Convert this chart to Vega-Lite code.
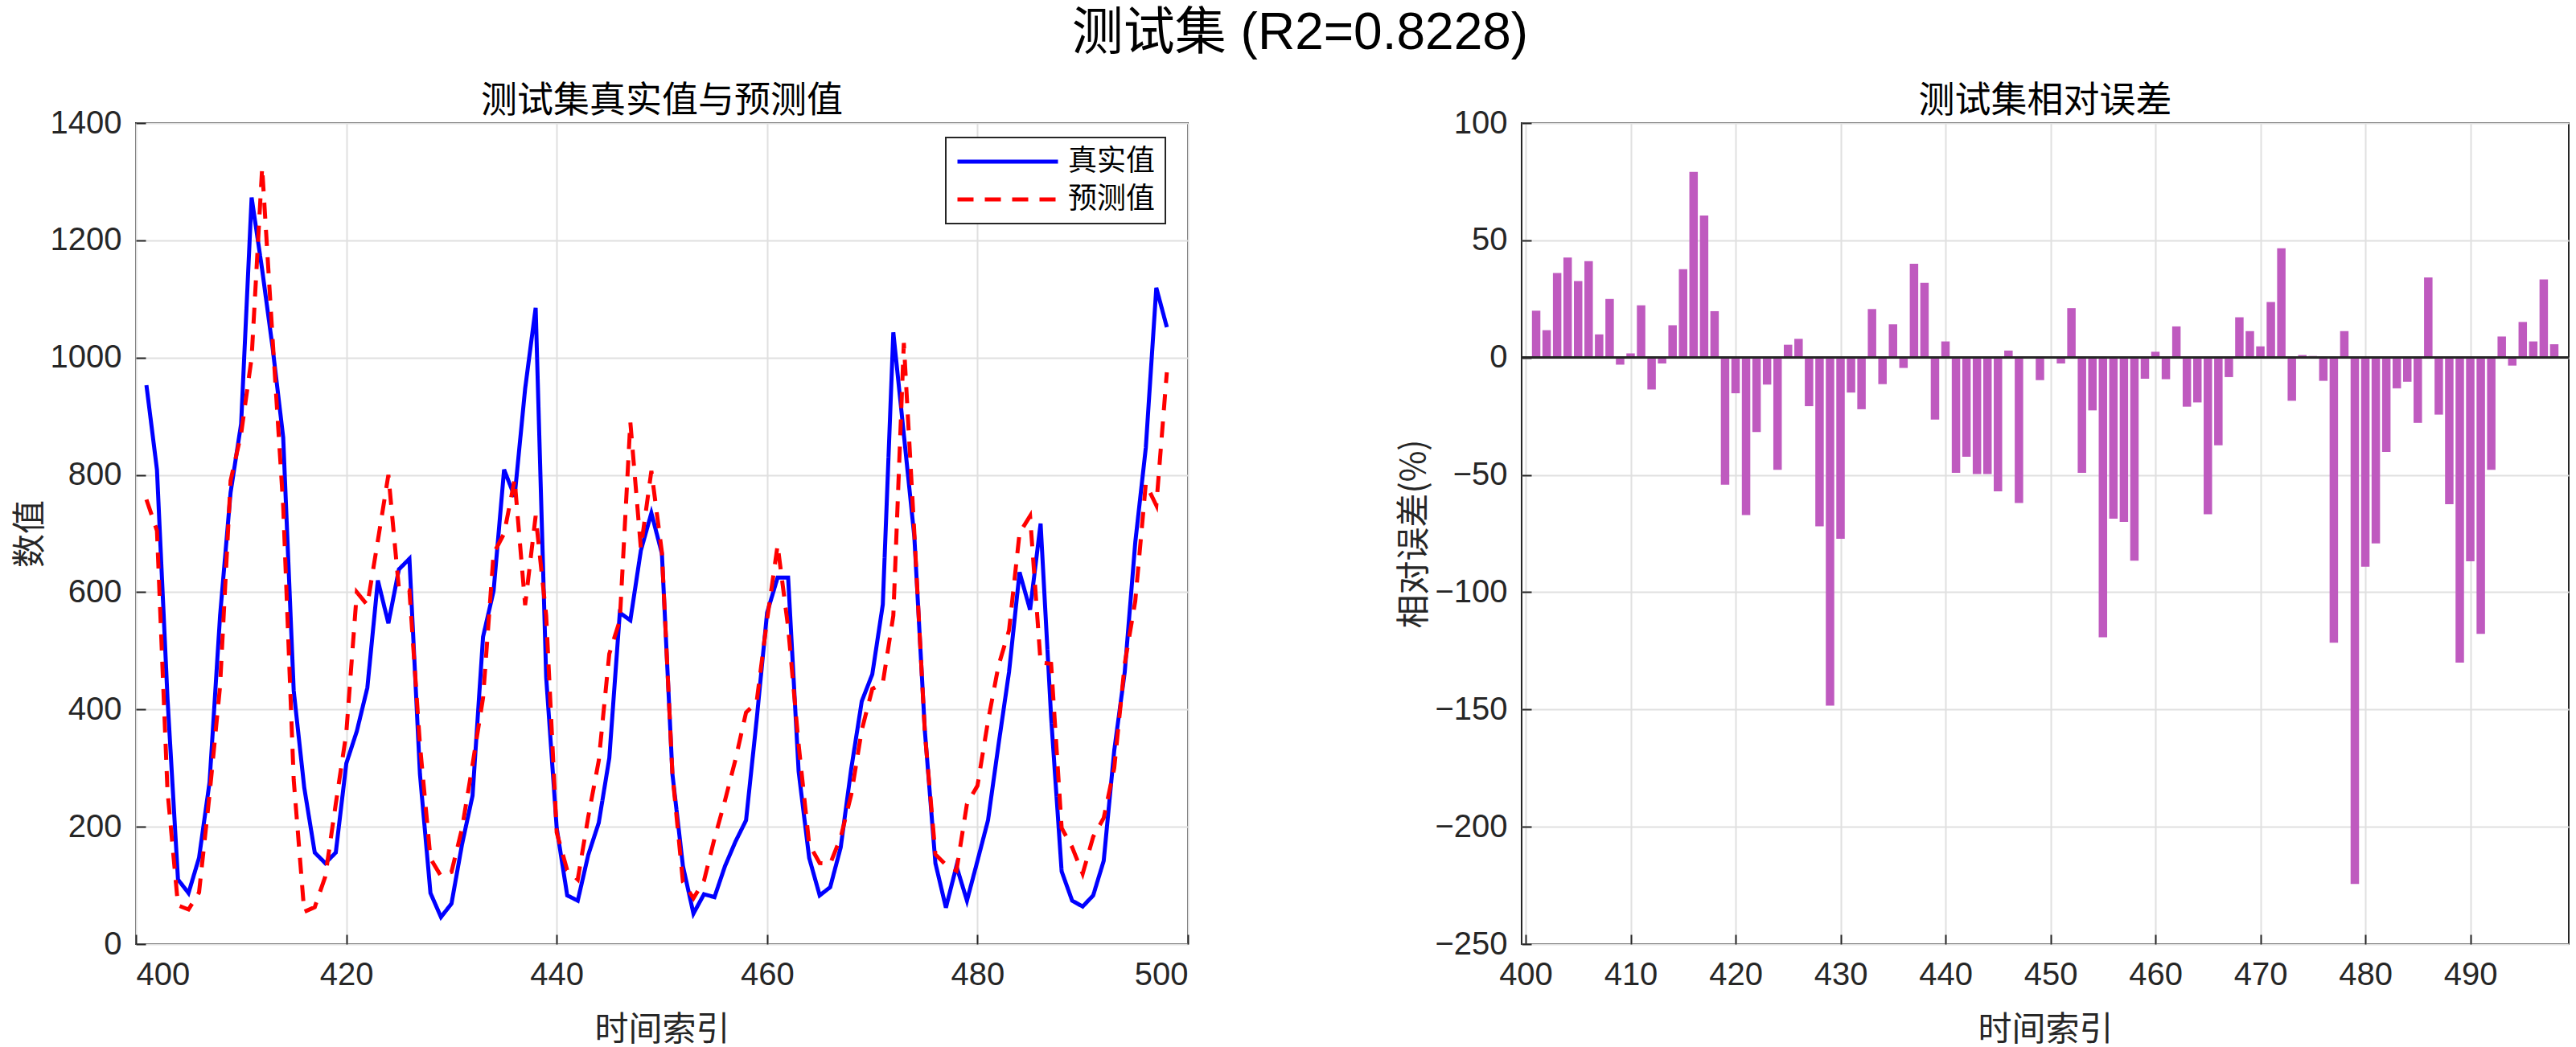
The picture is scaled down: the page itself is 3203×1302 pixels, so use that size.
{
  "$schema": "https://vega.github.io/schema/vega-lite/v6.json",
  "autosize": {"type": "pad"},
  "padding": {"left": 15, "top": 10, "right": 3, "bottom": 3},
  "background": "white",
  "title": {"text": "测试集  (R2=0.8228)", "fontSize": 64, "font": "Liberation Sans, Noto Sans CJK SC", "fontWeight": "normal", "color": "#000000", "anchor": "middle", "offset": 29, "dx": 11},
  "data": {"values": [
    {"t":401,"actual":953,"pred":758,"err":20.0},
    {"t":402,"actual":809,"pred":705,"err":11.7},
    {"t":403,"actual":420,"pred":262,"err":36.1},
    {"t":404,"actual":110,"pred":66,"err":42.7},
    {"t":405,"actual":87,"pred":59,"err":32.6},
    {"t":406,"actual":147,"pred":88,"err":41.1},
    {"t":407,"actual":276,"pred":255,"err":9.9},
    {"t":408,"actual":560,"pred":440,"err":25.0},
    {"t":409,"actual":770,"pred":790,"err":-3.0},
    {"t":410,"actual":887,"pred":870,"err":1.8},
    {"t":411,"actual":1273,"pred":1000,"err":22.3},
    {"t":412,"actual":1150,"pred":1324,"err":-13.6},
    {"t":413,"actual":1016,"pred":1030,"err":-2.5},
    {"t":414,"actual":864,"pred":747,"err":13.8},
    {"t":415,"actual":432,"pred":280,"err":37.7},
    {"t":416,"actual":267,"pred":55,"err":79.2},
    {"t":417,"actual":156,"pred":63,"err":60.6},
    {"t":418,"actual":138,"pred":115,"err":19.8},
    {"t":419,"actual":156,"pred":239,"err":-54.2},
    {"t":420,"actual":308,"pred":360,"err":-15.2},
    {"t":421,"actual":363,"pred":600,"err":-67.1},
    {"t":422,"actual":437,"pred":578,"err":-31.7},
    {"t":423,"actual":620,"pred":688,"err":-11.5},
    {"t":424,"actual":547,"pred":800,"err":-47.8},
    {"t":425,"actual":639,"pred":606,"err":5.5},
    {"t":426,"actual":657,"pred":603,"err":8.0},
    {"t":427,"actual":290,"pred":340,"err":-20.7},
    {"t":428,"actual":87,"pred":146,"err":-71.9},
    {"t":429,"actual":46,"pred":116,"err":-148.4},
    {"t":430,"actual":69,"pred":123,"err":-77.2},
    {"t":431,"actual":170,"pred":197,"err":-14.9},
    {"t":432,"actual":253,"pred":306,"err":-22.0},
    {"t":433,"actual":524,"pred":420,"err":20.7},
    {"t":434,"actual":602,"pred":666,"err":-11.3},
    {"t":435,"actual":809,"pred":700,"err":14.2},
    {"t":436,"actual":763,"pred":792,"err":-4.4},
    {"t":437,"actual":947,"pred":578,"err":40.0},
    {"t":438,"actual":1085,"pred":730,"err":31.9},
    {"t":439,"actual":455,"pred":560,"err":-26.4},
    {"t":440,"actual":198,"pred":190,"err":6.9},
    {"t":441,"actual":83,"pred":126,"err":-49.1},
    {"t":442,"actual":74,"pred":110,"err":-42.3},
    {"t":443,"actual":152,"pred":217,"err":-49.6},
    {"t":444,"actual":207,"pred":313,"err":-49.6},
    {"t":445,"actual":317,"pred":495,"err":-57.0},
    {"t":446,"actual":565,"pred":552,"err":3.0},
    {"t":447,"actual":552,"pred":890,"err":-62.0},
    {"t":448,"actual":671,"pred":675,"err":-0.4},
    {"t":449,"actual":735,"pred":807,"err":-9.6},
    {"t":450,"actual":666,"pred":668,"err":-0.3},
    {"t":451,"actual":290,"pred":290,"err":-2.5},
    {"t":452,"actual":133,"pred":106,"err":21.1},
    {"t":453,"actual":52,"pred":78,"err":-49.1},
    {"t":454,"actual":85,"pred":108,"err":-22.5},
    {"t":455,"actual":80,"pred":180,"err":-119.2},
    {"t":456,"actual":133,"pred":245,"err":-68.7},
    {"t":457,"actual":175,"pred":315,"err":-70.0},
    {"t":458,"actual":211,"pred":395,"err":-86.6},
    {"t":459,"actual":381,"pred":412,"err":-9.0},
    {"t":460,"actual":565,"pred":553,"err":2.5},
    {"t":461,"actual":625,"pred":680,"err":-9.2},
    {"t":462,"actual":625,"pred":540,"err":13.3},
    {"t":463,"actual":294,"pred":340,"err":-20.9},
    {"t":464,"actual":147,"pred":170,"err":-19.1},
    {"t":465,"actual":83,"pred":138,"err":-66.8},
    {"t":466,"actual":97,"pred":137,"err":-37.4},
    {"t":467,"actual":165,"pred":182,"err":-8.3},
    {"t":468,"actual":299,"pred":255,"err":17.2},
    {"t":469,"actual":414,"pred":365,"err":11.3},
    {"t":470,"actual":460,"pred":435,"err":4.8},
    {"t":471,"actual":579,"pred":445,"err":23.7},
    {"t":472,"actual":1043,"pred":560,"err":46.6},
    {"t":473,"actual":869,"pred":1025,"err":-18.4},
    {"t":474,"actual":694,"pred":700,"err":1.1},
    {"t":475,"actual":363,"pred":360,"err":0.7},
    {"t":476,"actual":138,"pred":153,"err":-9.9},
    {"t":477,"actual":62,"pred":135,"err":-121.5},
    {"t":478,"actual":133,"pred":125,"err":11.3},
    {"t":479,"actual":74,"pred":239,"err":-224.4},
    {"t":480,"actual":142,"pred":270,"err":-89.1},
    {"t":481,"actual":211,"pred":380,"err":-79.2},
    {"t":482,"actual":340,"pred":475,"err":-40.2},
    {"t":483,"actual":464,"pred":535,"err":-13.1},
    {"t":484,"actual":634,"pred":701,"err":-10.3},
    {"t":485,"actual":570,"pred":730,"err":-27.8},
    {"t":486,"actual":717,"pred":480,"err":34.2},
    {"t":487,"actual":387,"pred":478,"err":-24.3},
    {"t":488,"actual":124,"pred":198,"err":-62.5},
    {"t":489,"actual":74,"pred":165,"err":-130.0},
    {"t":490,"actual":64,"pred":120,"err":-86.8},
    {"t":491,"actual":83,"pred":183,"err":-117.8},
    {"t":492,"actual":142,"pred":215,"err":-47.8},
    {"t":493,"actual":330,"pred":300,"err":9.0},
    {"t":494,"actual":464,"pred":478,"err":-3.4},
    {"t":495,"actual":685,"pred":585,"err":15.2},
    {"t":496,"actual":846,"pred":785,"err":6.9},
    {"t":497,"actual":1119,"pred":748,"err":33.3},
    {"t":498,"actual":1052,"pred":975,"err":5.7}
  ]},
  "spacing": 415,
  "bounds": "flush",
  "hconcat": [
    {
      "width": 1308,
      "height": 1021,
      "title": {"text": "测试集真实值与预测值", "fontSize": 45, "font": "Noto Sans CJK SC", "fontWeight": "normal", "color": "#000000", "offset": -16},
      "transform": [{"fold": ["actual", "pred"], "as": ["series", "value"]}],
      "mark": {"type": "line", "strokeWidth": 5},
      "encoding": {
        "x": {"field": "t", "type": "quantitative", "scale": {"domain": [400, 500], "nice": false, "zero": false}, "axis": {"values": [400, 420, 440, 460, 480, 500], "title": "时间索引"}},
        "y": {"field": "value", "type": "quantitative", "scale": {"domain": [0, 1400], "nice": false}, "axis": {"values": [0, 200, 400, 600, 800, 1000, 1200, 1400], "format": "d", "title": "数值"}},
        "color": {"field": "series", "type": "nominal", "scale": {"domain": ["actual", "pred"], "range": ["#0000ff", "#ff0000"]},
          "legend": {"title": null, "orient": "none", "legendX": 1007, "legendY": 18, "symbolType": "stroke", "symbolSize": 15625, "clipHeight": 36, "symbolStrokeWidth": 5, "labelFont": "Noto Sans CJK SC", "labelFontSize": 36, "labelColor": "#000000", "labelOffset": 10, "padding": 12, "rowPadding": 11, "strokeColor": "#262626", "fillColor": "white", "labelExpr": "datum.label == 'actual' ? '真实值' : '预测值'"}},
        "strokeDash": {"field": "series", "type": "nominal", "scale": {"domain": ["actual", "pred"], "range": [[1, 0], [20, 14]]},
          "legend": {"title": null, "orient": "none", "legendX": 1007, "legendY": 18, "symbolType": "stroke", "symbolSize": 15625, "clipHeight": 36, "symbolStrokeWidth": 5, "labelFont": "Noto Sans CJK SC", "labelFontSize": 36, "labelColor": "#000000", "labelOffset": 10, "padding": 12, "rowPadding": 11, "strokeColor": "#262626", "fillColor": "white", "labelExpr": "datum.label == 'actual' ? '真实值' : '预测值'"}}
      }
    },
    {
      "width": 1302,
      "height": 1021,
      "title": {"text": "测试集相对误差", "fontSize": 45, "font": "Noto Sans CJK SC", "fontWeight": "normal", "color": "#000000", "offset": -16},
      "layer": [
        {
          "mark": {"type": "bar", "width": 10.5, "color": "#BF5ABF"},
          "encoding": {
            "x": {"field": "t", "type": "quantitative", "scale": {"domain": [400, 499], "nice": false, "zero": false}, "axis": {"values": [400, 410, 420, 430, 440, 450, 460, 470, 480, 490], "title": "时间索引"}},
            "y": {"field": "err", "type": "quantitative", "scale": {"domain": [-250, 100], "nice": false}, "axis": {"values": [-250, -200, -150, -100, -50, 0, 50, 100], "title": "相对误差(%)"}}
          }
        },
        {
          "mark": {"type": "rule", "color": "#262626", "strokeWidth": 2},
          "encoding": {"y": {"datum": 0}}
        }
      ]
    }
  ],
  "config": {
    "font": "Liberation Sans, Noto Sans CJK SC",
    "view": {"stroke": "#262626", "strokeWidth": 2},
    "legend": {"strokeWidth": 2},
    "axis": {
      "domain": false,
      "labelFont": "Liberation Sans",
      "labelFontSize": 40,
      "labelColor": "#262626",
      "titleFont": "Noto Sans CJK SC",
      "titleFontSize": 42,
      "titleFontWeight": "normal",
      "titleColor": "#262626",
      "gridColor": "#e0e0e0",
      "gridWidth": 2,
      "tickColor": "#262626",
      "tickWidth": 2,
      "tickSize": -12,
      "labelPadding": 30
    },
    "axisX": {"titlePadding": 28},
    "axisY": {"titlePadding": 3}
  }
}
